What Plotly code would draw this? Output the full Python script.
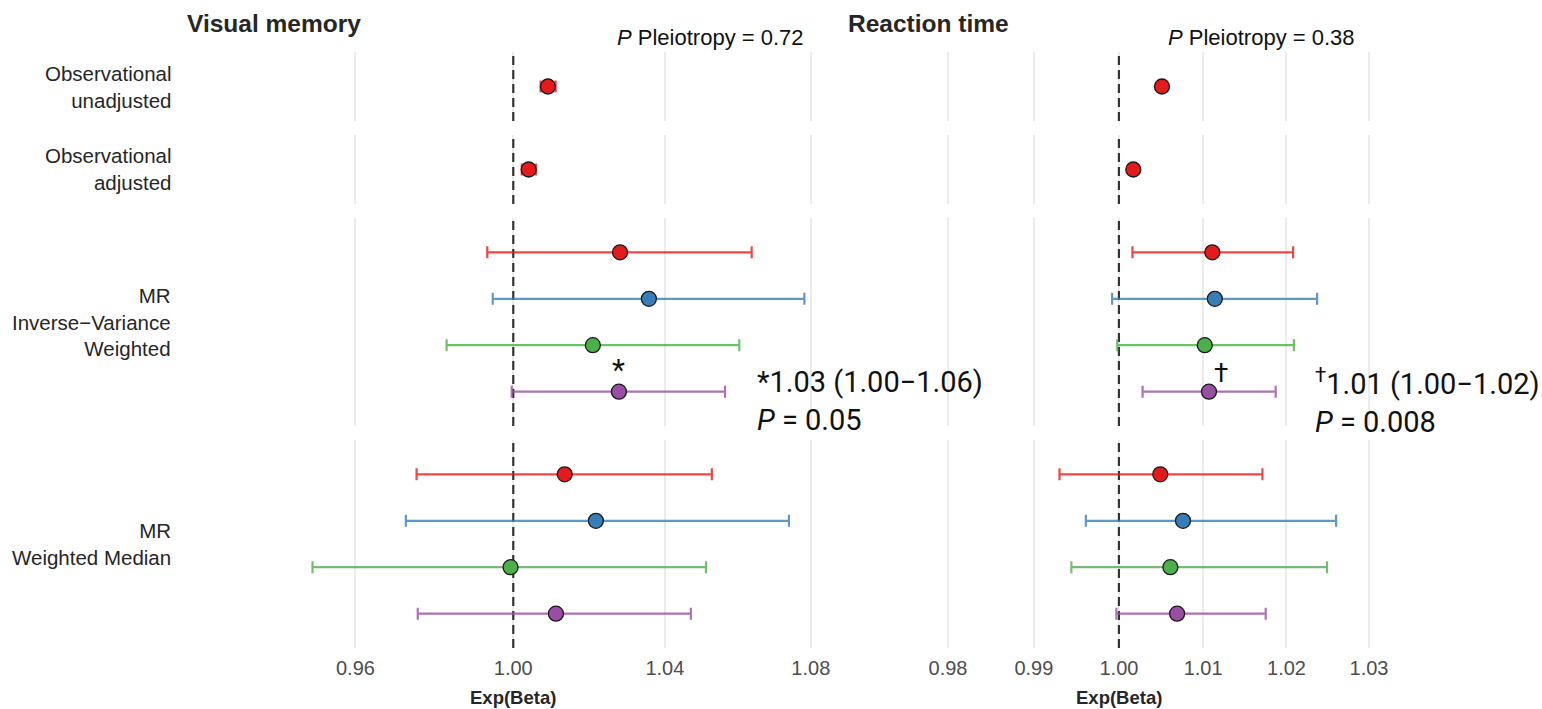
import math
import plotly.graph_objects as go

# ---------------- data ----------------
series = ["Instrument 1", "Instrument 2", "Instrument 3", "Instrument 4"]
series_colors = ["#E41A1C", "#377EB8", "#4DAF4A", "#984EA3"]
bar_colors = ["rgba(228,26,28,0.8)", "rgba(55,126,184,0.8)",
              "rgba(77,175,74,0.8)", "rgba(152,78,163,0.8)"]

facet_labels = ["Observational<br>unadjusted",
                "Observational<br>adjusted",
                "MR<br>Inverse\u2212Variance<br>Weighted",
                "MR<br>Weighted Median"]

panel_titles = ["Visual memory", "Reaction time"]
pleiotropy_text = ["<i>P</i> Pleiotropy = 0.72", "<i>P</i> Pleiotropy = 0.38"]

# Visual memory
vm_obs_est = [1.0090, 1.0040]
vm_obs_lo = [1.0071, 1.0022]
vm_obs_hi = [1.0110, 1.0059]
vm_ivw_est = [1.0280, 1.0357, 1.0208, 1.0277]
vm_ivw_lo = [0.9933, 0.9947, 0.9829, 0.9996]
vm_ivw_hi = [1.0636, 1.0782, 1.0602, 1.0563]
vm_wm_est = [1.0134, 1.0216, 0.9993, 1.0111]
vm_wm_lo = [0.9753, 0.9726, 0.9494, 0.9756]
vm_wm_hi = [1.0527, 1.0739, 1.0511, 1.0470]

# Reaction time
rt_obs_est = [1.0051, 1.0017]
rt_obs_lo = [1.0048, 1.0014]
rt_obs_hi = [1.0054, 1.0020]
rt_ivw_est = [1.0111, 1.0114, 1.0102, 1.0107]
rt_ivw_lo = [1.0016, 0.9992, 0.9998, 1.0028]
rt_ivw_hi = [1.0208, 1.0237, 1.0209, 1.0187]
rt_wm_est = [1.0049, 1.0076, 1.0061, 1.0069]
rt_wm_lo = [0.9930, 0.9961, 0.9944, 0.9997]
rt_wm_hi = [1.0171, 1.0260, 1.0249, 1.0175]

vm_ticks = [0.96, 1.00, 1.04, 1.08]
vm_ticklabels = ["0.96", "1.00", "1.04", "1.08"]
rt_ticks = [0.98, 0.99, 1.00, 1.01, 1.02, 1.03]
rt_ticklabels = ["0.98", "0.99", "1.00", "1.01", "1.02", "1.03"]

sig_marks = ["*", "\u2020"]
sig_text = ["*1.03 (1.00\u22121.06)<br><i>P</i> = 0.05",
            "<sup>\u2020</sup>1.01 (1.00\u22121.02)<br><i>P</i> = 0.008"]

# ---------------- layout helpers ----------------
W, H = 1542, 709
SANS = "Liberation Sans, Arial, sans-serif"


def px(x):
    return x / W


def py(y):
    return 1 - y / H


panel_px = [(185, 840), (846, 1392)]
panel_xrange = [(0.91860, 1.08818), (0.96826, 1.03280)]
rows_px = [(52, 121), (135, 204), (218, 426), (440, 648)]
row_yrange = [(1, -1), (1, -1), (3.74, -0.74), (3.74, -0.74)]

panels = [
    dict(obs=(vm_obs_est, vm_obs_lo, vm_obs_hi),
         ivw=(vm_ivw_est, vm_ivw_lo, vm_ivw_hi),
         wm=(vm_wm_est, vm_wm_lo, vm_wm_hi),
         ticks=vm_ticks, ticklabels=vm_ticklabels),
    dict(obs=(rt_obs_est, rt_obs_lo, rt_obs_hi),
         ivw=(rt_ivw_est, rt_ivw_lo, rt_ivw_hi),
         wm=(rt_wm_est, rt_wm_lo, rt_wm_hi),
         ticks=rt_ticks, ticklabels=rt_ticklabels),
]

fig = go.Figure()
layout = dict(width=W, height=H, margin=dict(l=0, r=0, t=0, b=0),
              paper_bgcolor="white", plot_bgcolor="white", showlegend=False)
annotations = []


def add_points(xa, ya, est, lo, hi, ys, color, barcolor, name):
    fig.add_trace(go.Scatter(
        x=est, y=ys, mode="markers", name=name, xaxis=xa, yaxis=ya,
        marker=dict(size=15, color=color, line=dict(color="#1a1a1a", width=1.3)),
        error_x=dict(type="data", symmetric=False,
                     array=[h - e for h, e in zip(hi, est)],
                     arrayminus=[e - l for e, l in zip(est, lo)],
                     color=barcolor, thickness=2.2, width=6),
        cliponaxis=False, hoverinfo="x+name"))


for p, panel in enumerate(panels):
    x0, x1 = panel_px[p]
    xr = panel_xrange[p]
    for r in range(4):
        k = p * 4 + r + 1
        xname = "xaxis" if k == 1 else f"xaxis{k}"
        yname = "yaxis" if k == 1 else f"yaxis{k}"
        xa = "x" if k == 1 else f"x{k}"
        ya = "y" if k == 1 else f"y{k}"
        ry0, ry1 = rows_px[r]
        layout[xname] = dict(
            domain=[px(x0), px(x1)], anchor=ya, type="log",
            range=[math.log10(xr[0]), math.log10(xr[1])],
            tickvals=panel["ticks"], ticktext=panel["ticklabels"],
            showticklabels=(r == 3), showgrid=True, gridcolor="#EBEBEB",
            gridwidth=2, zeroline=False, showline=False, ticks="",
            ticklabelstandoff=6,
            tickfont=dict(family=SANS, size=20, color="#4D4D4D"))
        layout[yname] = dict(
            domain=[py(ry1), py(ry0)], anchor=xa, range=list(row_yrange[r]),
            showticklabels=False, showgrid=False, zeroline=False,
            showline=False, ticks="")
        # reference line at 1
        fig.add_trace(go.Scatter(
            x=[1, 1], y=list(row_yrange[r]), mode="lines", xaxis=xa, yaxis=ya,
            line=dict(color="#333333", width=2.2, dash="9px,5px"),
            hoverinfo="skip", showlegend=False))
        if r < 2:
            est, lo, hi = panel["obs"]
            add_points(xa, ya, [est[r]], [lo[r]], [hi[r]], [0],
                       series_colors[0], bar_colors[0], series[0])
        else:
            est, lo, hi = panel["ivw"] if r == 2 else panel["wm"]
            for s in range(4):
                add_points(xa, ya, [est[s]], [lo[s]], [hi[s]], [s],
                           series_colors[s], bar_colors[s], series[s])
            if r == 2:
                annotations.append(dict(
                    x=math.log10(est[3]), y=3, xref=xa, yref=ya,
                    text=sig_marks[p], showarrow=False,
                    xshift=0 if p == 0 else 12, yshift=22 if p == 0 else 19,
                    font=dict(family="Roboto, sans-serif", size=30 if p == 0 else 26,
                              color="#111111")))

    # title
    annotations.append(dict(
        x=px(x0), y=py(24), xref="paper", yref="paper", xanchor="left",
        yanchor="middle", showarrow=False, text=f"<b>{panel_titles[p]}</b>",
        font=dict(family=SANS, size=24.5, color="#262626")))
    # x axis title
    annotations.append(dict(
        x=px((x0 + x1) / 2), y=py(697), xref="paper", yref="paper",
        xanchor="center", yanchor="middle", showarrow=False,
        text="<b>Exp(Beta)</b>",
        font=dict(family=SANS, size=18.5, color="#262626")))

# pleiotropy labels
for xc, t in zip([710, 1261], pleiotropy_text):
    annotations.append(dict(
        x=px(xc), y=py(37), xref="paper", yref="paper", xanchor="center",
        yanchor="middle", showarrow=False, text=t,
        font=dict(family=SANS, size=22, color="#111111")))

# significance text
for xl, t in zip([755, 1313], sig_text):
    annotations.append(dict(
        x=px(xl), y=py(401), xref="paper", yref="paper", xanchor="left",
        yanchor="middle", align="left", showarrow=False, text=t,
        font=dict(family="Roboto, sans-serif", size=29, color="#111111")))

# facet labels
for r, lab in enumerate(facet_labels):
    ry0, ry1 = rows_px[r]
    annotations.append(dict(
        x=px(173), y=py((ry0 + ry1) / 2), xref="paper", yref="paper",
        xanchor="right", yanchor="middle", align="right", showarrow=False,
        text=lab, font=dict(family=SANS, size=20.5, color="#262626")))

layout["annotations"] = annotations
fig.update_layout(**layout)
fig.write_html("out.html")
